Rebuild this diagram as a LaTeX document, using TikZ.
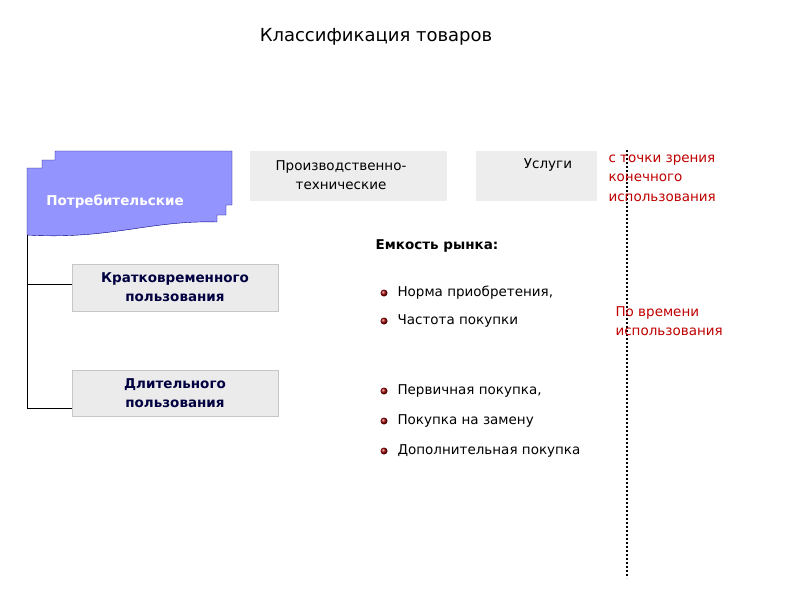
\documentclass[tikz,border=0pt]{standalone}
\usepackage{fontspec}
\setmainfont{DejaVu Sans}
\begin{document}
\begin{tikzpicture}[x=1pt,y=-1pt,
  gbox/.style={fill=gray!14,draw=none,inner sep=0pt},
  gtxt/.style={align=center,inner sep=0pt,font=\fontsize{13.5}{19}\selectfont},
  sbox/.style={fill=gray!16,draw=gray!45,inner sep=0pt},
  stxt/.style={align=center,inner sep=0pt,font=\bfseries\fontsize{13.5}{19}\selectfont,text=black!75!blue},
  item/.style={anchor=west,font=\fontsize{13.5}{16}\selectfont},
  bul/.style={circle,inner sep=0pt,minimum size=7pt,ball color=red!60!black,draw=none},
  red/.style={anchor=west,align=left,text=red!75!black,font=\fontsize{13.5}{19.5}\selectfont}]
\useasboundingbox (0,0) rectangle (794,595);
\node (title) at (376,37) {\fontsize{18}{22}\selectfont Классификация товаров};
\fill[draw=blue!50!black,line width=0.4pt,fill=blue!42]
 (27,235) -- (27,168) -- (42,168) -- (42,160) -- (55,160) -- (55,151) -- (232,151) -- (232,205) -- (226,205) -- (226,215) -- (217,215) -- (217,222)
 .. controls (150,220) and (110,240) .. (27,235) -- cycle;
\node[text=white,font=\bfseries\fontsize{13.5}{16}\selectfont] (cons) at (115,202) {Потребительские};
\node[gbox,minimum width=197pt,minimum height=50pt] (prod) at (348.5,176) {};
\node[gtxt] (prodt) at (341,175) {Производственно-\\технические};
\node[gbox,minimum width=121pt,minimum height=50pt] (serv) at (536.5,176) {};
\node[gtxt] (servt) at (548,165) {Услуги};
\node[sbox,minimum width=206pt,minimum height=47pt] (short) at (175,287.5) {};
\node[stxt] (shortt) at (175,287) {Кратковременного\\пользования};
\node[sbox,minimum width=206pt,minimum height=46pt] (long) at (175,393) {};
\node[stxt] (longt) at (175,393) {Длительного\\пользования};
\coordinate (top) at (27,235);
\draw[line width=0.6pt] (top) -- (27,408) -- (long.west |- 0,408);
\draw[line width=0.6pt] (27,284) -- (short.west |- 0,284);
\node[font=\bfseries\fontsize{13.5}{16}\selectfont] (cap) at (437,246) {Емкость рынка:};
\foreach \t/\y/\n in {{Норма приобретения,}/293/a, {Частота покупки}/321/b, {Первичная покупка,}/391/c, {Покупка на замену}/421/d, {Дополнительная покупка}/451/e}{
  \node[bul] (b\n) at (384,\y) {};
  \node[item] (t\n) at (394,\y) {\t};
}
\coordinate (d1) at (627,150);
\coordinate (d2) at (627,578);
\draw[line width=2.5pt,dash pattern=on 2pt off 2pt] (d1) -- (d2);
\node[red] (r1) at (605,178) {с точки зрения\\конечного\\использования};
\node[red] (r2) at (612,321) {По времени\\использования};
\end{tikzpicture}
\end{document}
